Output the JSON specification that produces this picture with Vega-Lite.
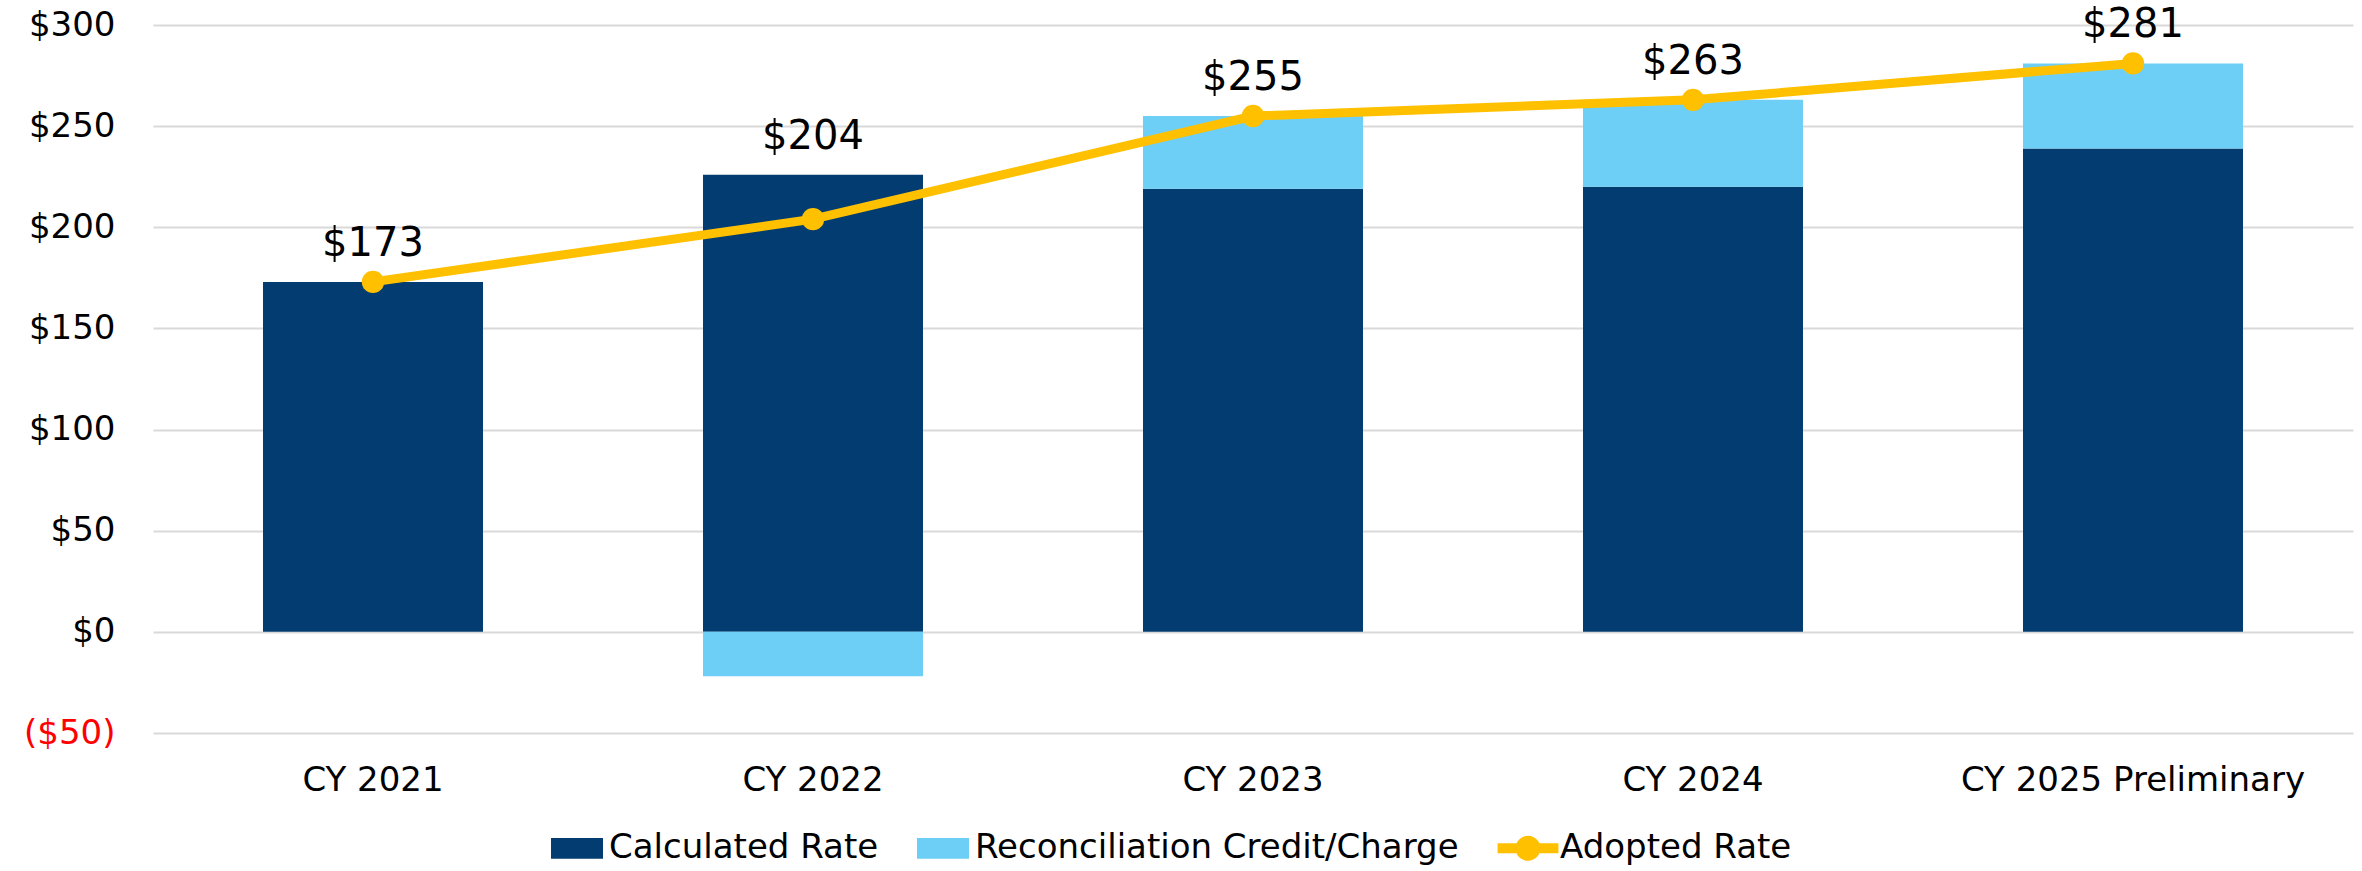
{
  "$schema": "https://vega.github.io/schema/vega-lite/v6.json",
  "width": 2200,
  "height": 708,
  "autosize": {"type": "none"},
  "padding": {"left": 153, "top": 25, "right": 9, "bottom": 138},
  "background": "white",
  "config": {
    "font": "DejaVu Sans",
    "view": {"stroke": null},
    "axis": {"labelFont": "DejaVu Sans", "labelFontSize": 34, "labelColor": "#000000", "labelLimit": 0}
  },
  "data": {
    "values": [
      {"year": "CY 2021", "Calculated Rate": 173, "Reconciliation Credit/Charge": 0, "adopted": 173},
      {"year": "CY 2022", "Calculated Rate": 226, "Reconciliation Credit/Charge": -22, "adopted": 204},
      {"year": "CY 2023", "Calculated Rate": 219, "Reconciliation Credit/Charge": 36, "adopted": 255},
      {"year": "CY 2024", "Calculated Rate": 220, "Reconciliation Credit/Charge": 43, "adopted": 263},
      {"year": "CY 2025 Preliminary", "Calculated Rate": 239, "Reconciliation Credit/Charge": 42, "adopted": 281}
    ]
  },
  "encoding": {
    "x": {
      "field": "year",
      "type": "nominal",
      "sort": null,
      "scale": {"paddingInner": 0.5, "paddingOuter": 0.25},
      "axis": {"title": null, "labelAngle": 0, "domain": false, "ticks": false, "labelPadding": 30, "labelBaseline": "top"}
    }
  },
  "layer": [
    {
      "transform": [
        {"fold": ["Calculated Rate", "Reconciliation Credit/Charge"], "as": ["series", "value"]}
      ],
      "mark": {"type": "bar"},
      "encoding": {
        "y": {
          "field": "value",
          "type": "quantitative",
          "stack": "zero",
          "scale": {"domain": [-50, 300], "nice": false},
          "axis": {
            "title": null,
            "values": [-50, 0, 50, 100, 150, 200, 250, 300],
            "domain": false,
            "ticks": false,
            "grid": true,
            "gridColor": "#D9D9D9",
            "gridWidth": 2,
            "labelPadding": 38,
            "labelExpr": "datum.value < 0 ? '($' + (-datum.value) + ')' : '$' + datum.value + '\u2009'",
            "labelColor": {"condition": {"test": "datum.value < 0", "value": "#FF0000"}, "value": "#000000"}
          }
        },
        "color": {
          "field": "series",
          "type": "nominal",
          "scale": {
            "domain": ["Calculated Rate", "Reconciliation Credit/Charge", "Adopted Rate"],
            "range": ["#023C71", "#6DCFF6", "#FFC000"]
          },
          "legend": {
            "title": null,
            "orient": "none",
            "direction": "horizontal",
            "legendX": 398,
            "legendY": 797,
            "symbolSize": 2704,
            "labelFontSize": 34,
            "labelFont": "DejaVu Sans",
            "labelColor": "#000000",
            "labelLimit": 0,
            "labelOffset": 6,
            "columnPadding": 38,
            "encode": {
              "symbols": {
                "update": {
                  "shape": {"signal": "datum.value === 'Adopted Rate' ? 'M0,-0.9M0,0.9M-1.17,-0.19H-0.44V0.19H-1.17Z M0.44,-0.19H1.17V0.19H0.44Z M0.48,0A0.48,0.48 0 1 1 -0.48,0A0.48,0.48 0 1 1 0.48,0Z' : 'M0,-0.9M0,0.9M-1,-0.4H1V0.4H-1Z'"},
                  "size": {"value": 2704},
                  "fill": {"scale": "color", "field": "value"},
                  "strokeWidth": {"value": 0},
                  "opacity": {"value": 1},
                  "fillOpacity": {"value": 1}
                }
              }
            }
          }
        },
        "order": {"field": "series", "sort": "ascending"}
      }
    },
    {
      "mark": {"type": "line", "strokeWidth": 9, "strokeCap": "round"},
      "encoding": {
        "y": {"field": "adopted", "type": "quantitative"},
        "color": {"datum": "Adopted Rate"}
      }
    },
    {
      "mark": {"type": "circle", "size": 500, "opacity": 1},
      "encoding": {
        "y": {"field": "adopted", "type": "quantitative"},
        "color": {"datum": "Adopted Rate"}
      }
    },
    {
      "transform": [
        {"calculate": "max(datum.adopted, datum['Calculated Rate'] + max(datum['Reconciliation Credit/Charge'], 0))", "as": "labelBase"}
      ],
      "mark": {"type": "text", "fontSize": 40, "dy": -38, "baseline": "middle", "align": "center", "color": "#000000", "font": "DejaVu Sans"},
      "encoding": {
        "y": {"field": "labelBase", "type": "quantitative"},
        "text": {"field": "adopted", "type": "quantitative", "format": "$,.0f"}
      }
    }
  ]
}
